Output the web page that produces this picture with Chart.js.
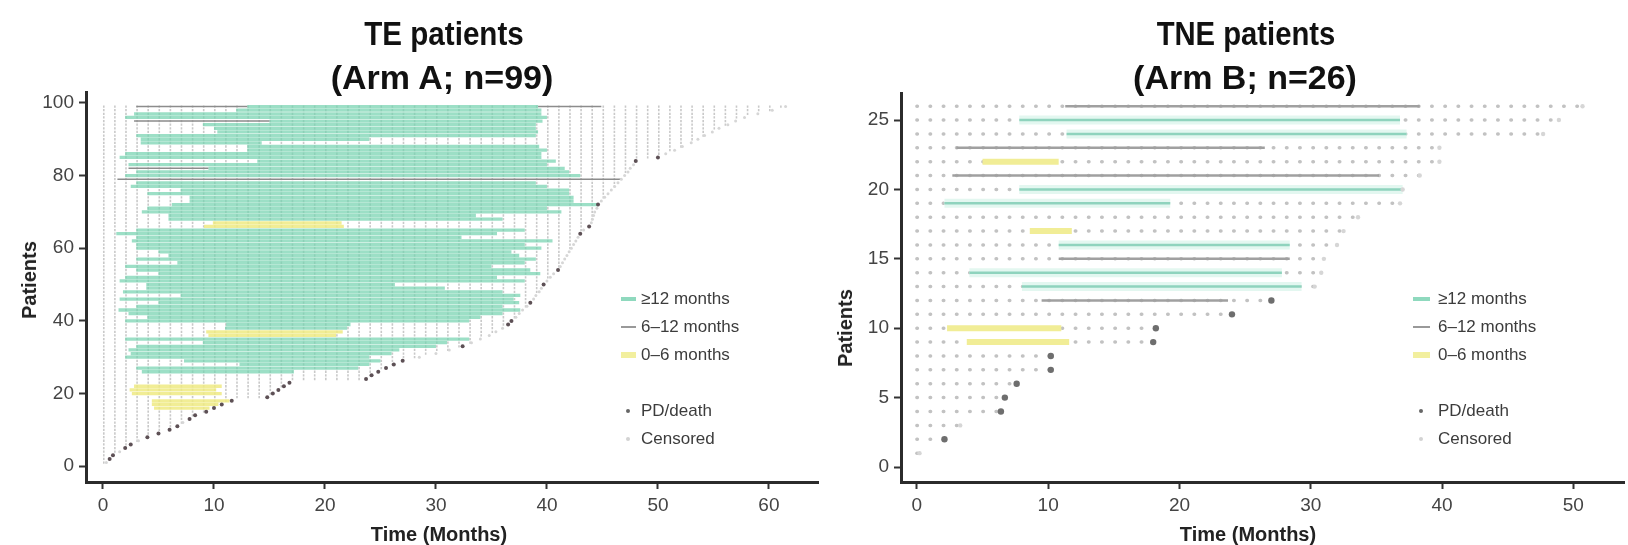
<!DOCTYPE html>
<html>
<head>
<meta charset="utf-8">
<script src="https://cdn.jsdelivr.net/npm/chart.js@4.4.1/dist/chart.umd.min.js"></script>
<style>
  body { margin: 0; width: 1628px; height: 545px; background: #fff; position: relative; overflow: hidden;
         font-family: "Liberation Sans", Arial, sans-serif; }
  canvas { position: absolute; top: 0; }
  .title { position: absolute; font-weight: bold; font-size: 34px; line-height: 41px; color: #111;
           white-space: nowrap; }
  .xtitle { position: absolute; top: 523px; font-weight: bold; font-size: 20px; line-height: 22px; color: #222;
            transform: translateX(-50%); white-space: nowrap; }
  .ytitle { position: absolute; font-weight: bold; font-size: 20px; line-height: 22px; color: #222;
            transform: translate(-50%, -50%) rotate(-90deg); white-space: nowrap; }
  .leg { position: absolute; font-size: 17px; line-height: 20px; color: #3c3c3c; white-space: nowrap; margin-top: -10px; }
  .sw { position: absolute; }
</style>
</head>
<body>
<canvas id="teChart" width="830" height="545" style="left:0"></canvas>
<canvas id="tneChart" width="798" height="545" style="left:830px"></canvas>

<div class="title" style="left:444px; top:13px; transform:translateX(-50%) scaleX(0.87)">TE patients</div>
<div class="title" style="left:442px; top:57px; transform:translateX(-50%)">(Arm A; n=99)</div>
<div class="title" style="left:1246px; top:13px; transform:translateX(-50%) scaleX(0.86)">TNE patients</div>
<div class="title" style="left:1245px; top:57px; transform:translateX(-50%)">(Arm B; n=26)</div>
<div class="xtitle" style="left:439px">Time (Months)</div>
<div class="xtitle" style="left:1248px">Time (Months)</div>
<div class="ytitle" style="left:29px; top:280px">Patients</div>
<div class="ytitle" style="left:845px; top:328px">Patients</div>

<!-- legend, TE panel -->
<div class="sw" style="left:621px; top:297px; width:15px; height:4px; background:#8fd9be"></div>
<div class="leg" style="left:641px; top:299px">≥12 months</div>
<div class="sw" style="left:621px; top:326px; width:15px; height:2px; background:#999"></div>
<div class="leg" style="left:641px; top:327px">6–12 months</div>
<div class="sw" style="left:621px; top:352px; width:15px; height:6px; background:#f2ef9e"></div>
<div class="leg" style="left:641px; top:355px">0–6 months</div>
<div class="sw" style="left:626px; top:409px; width:4px; height:4px; border-radius:2px; background:#666"></div>
<div class="leg" style="left:641px; top:411px">PD/death</div>
<div class="sw" style="left:626px; top:437px; width:4px; height:4px; border-radius:2px; background:#d3d3d3"></div>
<div class="leg" style="left:641px; top:439px">Censored</div>

<!-- legend, TNE panel -->
<div class="sw" style="left:1413px; top:297px; width:17px; height:4px; background:#8fd9be"></div>
<div class="leg" style="left:1438px; top:299px">≥12 months</div>
<div class="sw" style="left:1413px; top:326px; width:17px; height:2px; background:#999"></div>
<div class="leg" style="left:1438px; top:327px">6–12 months</div>
<div class="sw" style="left:1413px; top:352px; width:17px; height:6px; background:#f2ef9e"></div>
<div class="leg" style="left:1438px; top:355px">0–6 months</div>
<div class="sw" style="left:1419px; top:409px; width:4px; height:4px; border-radius:2px; background:#666"></div>
<div class="leg" style="left:1438px; top:411px">PD/death</div>
<div class="sw" style="left:1419px; top:437px; width:4px; height:4px; border-radius:2px; background:#d3d3d3"></div>
<div class="leg" style="left:1438px; top:439px">Censored</div>

<script>
// ---- TE patients (Arm A), patient 1..99, follow-up in months
const teFollowUp = [
  0.3, 0.6, 0.9, 1.5, 2.0, 2.5, 3.2, 4.0, 5.0, 6.0,
  6.7, 7.2, 7.8, 8.3, 9.3, 10.0, 10.7, 11.6, 14.8, 15.3,
  15.8, 16.3, 16.8, 23.7, 24.2, 24.8, 25.5, 26.2, 27.0, 28.5,
  30.0, 31.2, 32.4, 33.2, 34.0, 34.8, 35.4, 36.0, 36.5, 36.8,
  37.2, 37.5, 37.8, 38.2, 38.5, 38.8, 39.0, 39.3, 39.5, 39.7,
  40.0, 40.3, 40.6, 41.0, 41.2, 41.4, 41.6, 41.8, 42.0, 42.2,
  42.4, 42.6, 42.8, 43.0, 43.3, 43.8, 44.0, 44.1, 44.2, 44.3,
  44.5, 44.6, 44.9, 45.2, 45.5, 45.8, 46.1, 46.4, 46.7, 47.0,
  47.3, 47.5, 47.8, 48.0, 50.0, 50.7, 51.5, 52.2, 53.0, 53.6,
  54.2, 54.9, 55.5, 56.3, 57.0, 57.8, 59.0, 60.3, 61.5
];
const tePD = [2, 3, 5, 6, 8, 9, 10, 11, 13, 14, 15, 16, 17, 18, 19, 20, 21, 22, 23, 24, 25, 26, 27, 28, 29,
              33, 39, 40, 45, 50, 54, 64, 66, 72, 84, 85];
// [patient, start, end]
const teLong = [
  [26, 3.5, 17.2], [27, 3.0, 23.0], [28, 12.3, 24.0], [29, 7.3, 25.0], [30, 2.0, 24.0], [31, 2.5, 26.0],
  [32, 2.3, 26.7], [33, 3.0, 30.0], [34, 9.0, 31.0], [35, 2.0, 33.0], [38, 11.0, 22.0], [39, 11.1, 22.3],
  [40, 2.0, 33.0], [41, 4.0, 34.0], [42, 2.3, 36.0], [43, 1.4, 37.6], [44, 3.0, 36.0], [45, 5.0, 37.5],
  [46, 1.5, 37.0], [47, 7.0, 37.6], [48, 1.8, 36.0], [49, 3.9, 30.8], [50, 3.9, 26.3], [51, 1.5, 38.0],
  [52, 2.0, 35.5], [53, 5.0, 39.4], [54, 3.0, 38.5], [55, 2.0, 35.0], [56, 6.7, 38.0], [57, 3.0, 39.0],
  [58, 5.9, 37.5], [59, 5.0, 36.8], [60, 3.0, 39.5], [61, 3.0, 38.0], [62, 2.6, 40.5], [63, 3.0, 32.3],
  [64, 1.2, 35.5], [65, 3.0, 38.0], [68, 5.9, 36.0], [69, 5.9, 33.6], [70, 3.5, 41.3], [71, 4.0, 40.0],
  [72, 6.2, 44.6], [73, 7.8, 42.4], [74, 7.8, 42.4], [75, 4.0, 42.0], [76, 7.0, 42.0], [77, 2.5, 40.0],
  [78, 3.0, 39.0], [80, 2.0, 43.0], [81, 3.0, 42.0], [82, 9.5, 41.6], [83, 2.3, 40.0], [84, 13.9, 40.8],
  [85, 1.5, 39.5], [86, 2.0, 39.5], [87, 13.0, 40.0], [88, 13.0, 39.3], [89, 3.4, 14.3], [90, 3.4, 24.0],
  [91, 3.0, 39.0], [92, 10.3, 39.2], [93, 10.0, 39.0], [94, 9.0, 39.0], [95, 15.0, 39.6], [96, 2.0, 40.0],
  [97, 2.8, 39.5], [98, 12.0, 39.5], [99, 13.0, 39.2]
];
const teMid = [[79, 1.3, 46.7], [82, 2.3, 9.5], [95, 2.8, 15.0], [99, 3.0, 13.0], [99, 39.2, 44.9]];
const teShort = [
  [16, 4.6, 9.6], [17, 4.4, 10.4], [18, 4.4, 11.4], [20, 2.6, 10.7], [21, 2.4, 10.2], [22, 2.8, 10.7],
  [36, 9.5, 21.0], [37, 9.3, 21.6], [66, 9.1, 21.7], [67, 9.9, 21.5]
];
const teTicksX = [0, 10, 20, 30, 40, 50, 60];
const teTicksY = [0, 20, 40, 60, 80, 100];

// ---- TNE patients (Arm B), patient 1..26
const tneFollowUp = [
  0.2, 2.1, 3.3, 6.4, 6.7, 7.6, 10.2, 10.2, 18.0, 18.2,
  24.0, 27.0, 30.3, 30.8, 31.0, 32.0, 32.5, 33.6, 36.8, 37.0,
  38.3, 39.8, 39.8, 47.7, 48.9, 50.7
];
const tnePD = [2, 4, 5, 6, 7, 8, 9, 10, 11, 12];
const tneLong = [[13, 8.0, 29.3], [14, 4.0, 27.8], [16, 10.8, 28.4], [19, 2.1, 19.3], [20, 7.8, 37.0],
                 [24, 11.4, 37.3], [25, 7.8, 36.8]];
const tneMid = [[12, 9.5, 23.7], [15, 10.8, 28.4], [21, 2.7, 35.2], [23, 3.0, 26.5], [26, 11.3, 38.3]];
const tneShort = [[9, 3.8, 11.6], [10, 2.3, 11.0], [17, 8.6, 11.8], [22, 5.0, 10.8]];
const tneTicksX = [0, 10, 20, 30, 40, 50];
const tneTicksY = [0, 5, 10, 15, 20, 25];

const segs = rows => rows.flatMap(([p, s, e]) => [{x: s, y: p}, {x: e, y: p}, {x: e, y: null}]);

function axis(min, max, ticks, size, isX) {
  return {
    type: 'linear', min, max,
    afterBuildTicks: s => { s.ticks = ticks.map(v => ({value: v})); },
    afterFit: s => { if (isX) s.height = size; else s.width = size; },
    border: {display: true, color: '#2b2b2b', width: 3},
    grid: {display: true, drawOnChartArea: false, drawTicks: true, tickLength: 7, tickWidth: 2, tickColor: '#333'},
    ticks: {font: {family: 'Liberation Sans', size: 19}, color: '#444', padding: 5, maxRotation: 0, autoSkip: false}
  };
}

function swimmer(id, d, st) {
  const datasets = [];
  d.followUp.forEach((end, i) => {
    datasets.push({
      data: [{x: 0, y: i + 1}, {x: end, y: i + 1}],
      borderColor: st.dotColor, borderWidth: st.dotWidth, borderDash: st.dotDash,
      borderCapStyle: st.dotCap, pointRadius: 0, order: 6
    });
  });
  const line = (rows, color, width, order) => ({
    data: segs(rows), borderColor: color, borderWidth: width, borderCapStyle: 'butt',
    pointRadius: 0, spanGaps: false, order
  });
  if (st.longBand) datasets.push(line(d.long, st.longBand, st.longBandWidth, 5));
  datasets.push(line(d.long, st.longColor, st.longWidth, 4));
  datasets.push(line(d.short, st.shortColor, st.shortWidth, 4));
  datasets.push(line(d.mid, st.midColor, st.midWidth, 3));
  const censored = d.followUp.map((e, i) => i + 1).filter(p => !d.pd.includes(p));
  datasets.push({
    data: censored.map(p => ({x: d.followUp[p - 1], y: p})), showLine: false,
    pointRadius: st.censRadius, pointBackgroundColor: '#d6d6d6', pointBorderWidth: 0, order: 2
  });
  datasets.push({
    data: d.pd.map(p => ({x: d.followUp[p - 1], y: p})), showLine: false,
    pointRadius: st.pdRadius, pointBackgroundColor: st.pdColor, pointBorderWidth: 0, order: 1
  });

  new Chart(document.getElementById(id), {
    type: 'line',
    data: {datasets},
    options: {
      responsive: false, animation: false, devicePixelRatio: 1, events: [],
      layout: {padding: {top: st.padTop, right: st.padRight, left: 0, bottom: 0}},
      plugins: {legend: {display: false}, tooltip: {enabled: false}},
      scales: {
        x: axis(st.xMin, st.xMax, d.ticksX, 63, true),
        y: axis(st.yMin, st.yMax, d.ticksY, st.yWidth, false)
      }
    }
  });
}

swimmer('teChart',
  {followUp: teFollowUp, pd: tePD, long: teLong, mid: teMid, short: teShort, ticksX: teTicksX, ticksY: teTicksY},
  {xMin: -1.53, xMax: 64.42, yMin: -4.35, yMax: 103, padTop: 92, padRight: 12, yWidth: 86,
   dotColor: '#c9c9c9', dotWidth: 2.3, dotDash: [1.6, 9.5], dotCap: 'butt',
   longColor: 'rgba(118, 210, 176, 0.72)', longWidth: 3.3, midColor: '#8c8c8c', midWidth: 1.5,
   shortColor: 'rgba(238, 234, 130, 0.85)', shortWidth: 3.3, pdColor: '#5d5055', pdRadius: 2, censRadius: 1.5});

swimmer('tneChart',
  {followUp: tneFollowUp, pd: tnePD, long: tneLong, mid: tneMid, short: tneShort, ticksX: tneTicksX, ticksY: tneTicksY},
  {xMin: -1.21, xMax: 53.86, yMin: -1.08, yMax: 26.95, padTop: 93, padRight: 0, yWidth: 71,
   dotColor: '#c2c2c2', dotWidth: 3.5, dotDash: [0.5, 12.7], dotCap: 'round',
   longBand: '#e3f7f0', longBandWidth: 9, longColor: '#8fd3bd', longWidth: 2.5,
   midColor: '#a0a0a0', midWidth: 2.5, shortColor: '#f1ed96', shortWidth: 6,
   pdColor: '#6e6e6e', pdRadius: 3.2, censRadius: 2.2});
</script>
</body>
</html>
